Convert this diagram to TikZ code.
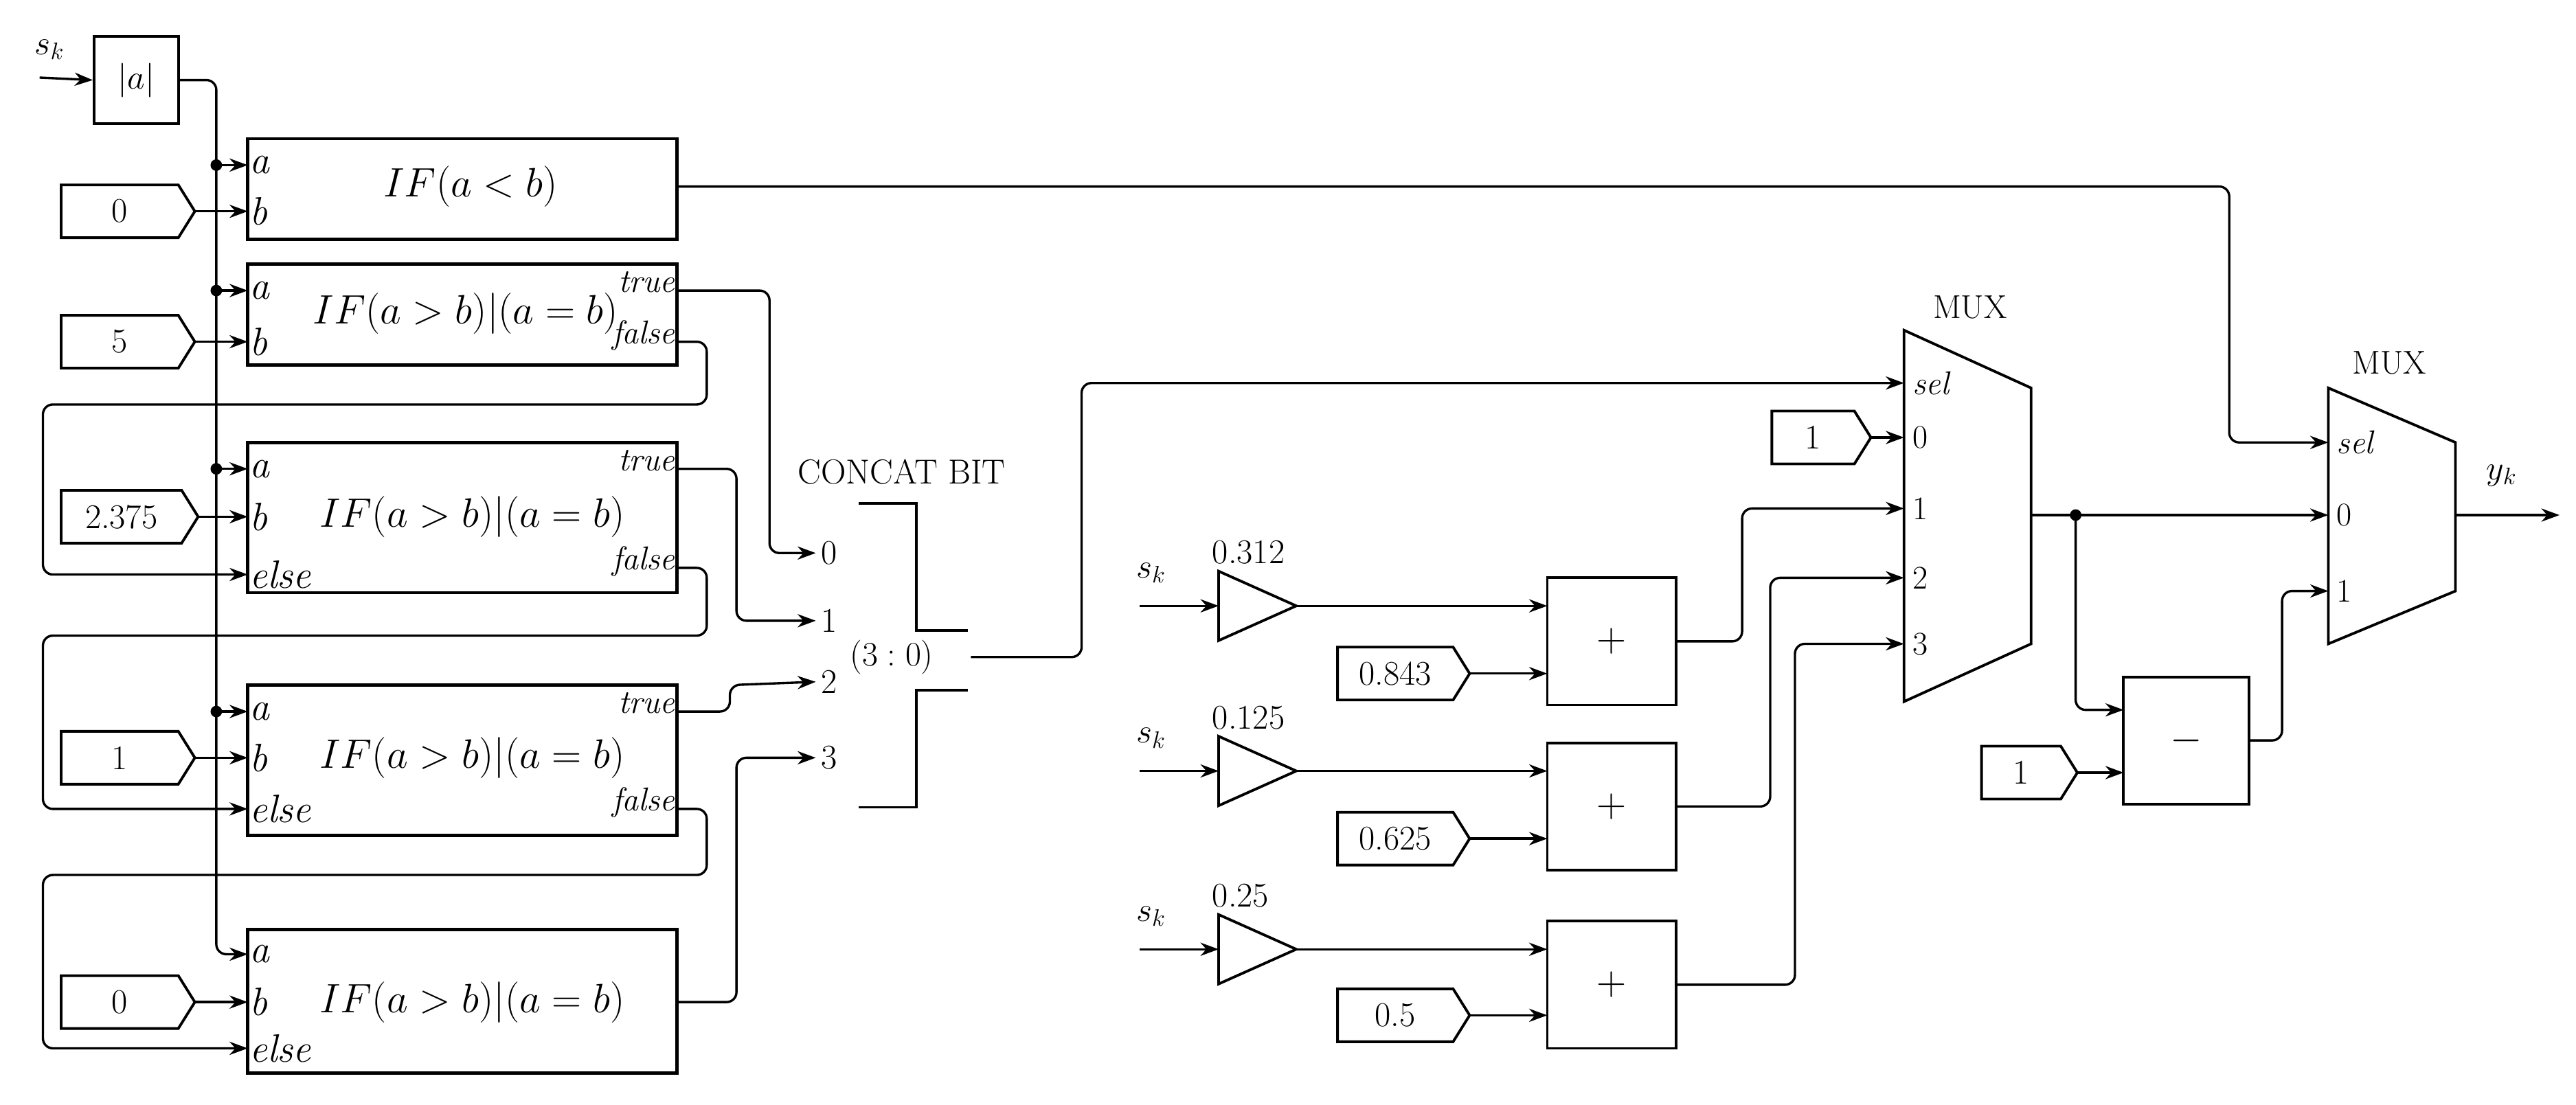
\documentclass[tikz,border=0pt]{standalone}
\usetikzlibrary{arrows.meta}
\newcommand\konst[5]{%
 \draw[line width=1.6pt] (#2,#4-16)--(#3-10,#4-16)--(#3,#4)--(#3-10,#4+16)--(#2,#4+16)--cycle;
 \node[num] at ({(#2+#3-10)/2},#4) {#5};
 \coordinate (#1) at (#3,#4);}
\newcommand\gainblk[4]{% name, y, label, input name
 \draw[line width=1.6pt] (738,#2-21)--(785,#2)--(738,#2+21)--cycle;
 \coordinate (#1) at (785,#2);
 \coordinate (#1in) at (738,#2);
 \node[num,anchor=south west] at (733,#2-24) {#3};
 \node[num] at (697,#2-20) {$s_k$};
 \coordinate (#4) at (690,#2);
 \draw[wire,->] (#4) -- (#1in);}
\begin{document}
\begin{tikzpicture}[x=1pt,y=-1pt,
 >={Stealth[length=11pt,width=8pt]},
 wire/.style={line width=1.4pt, rounded corners=6pt},
 blk/.style={draw, line width=2pt, inner sep=0pt},
 port/.style={font=\fontsize{24}{26}\selectfont, inner sep=1pt},
 small/.style={font=\fontsize{20}{22}\selectfont, inner sep=1pt},
 num/.style={font=\fontsize{21}{23}\selectfont, inner sep=1pt},
 big/.style={font=\fontsize{27}{30}\selectfont, inner sep=0pt},
 dot/.style={circle, fill, inner sep=0pt, minimum size=7pt}]
\useasboundingbox (0,0) rectangle (1560,669);

% |a|
\node[blk, line width=1.6pt, minimum width=51pt, minimum height=53pt, num] (abs) at (82.5,48.5) {$|a|$};
\node[num] at (30,30) {$s_k$};
\coordinate (skin) at (24,47);
\draw[wire,->] (skin) -- (abs.west);

% blocks
\node[blk, minimum width=260pt, minimum height=61pt] (B1) at (280,114.5) {};
\node[blk, minimum width=260pt, minimum height=61pt] (B2) at (280,190.5) {};
\node[blk, minimum width=260pt, minimum height=91pt] (B3) at (280,313.5) {};
\node[blk, minimum width=260pt, minimum height=91pt] (B4) at (280,460.5) {};
\node[blk, minimum width=260pt, minimum height=87pt] (B5) at (280,606.5) {};

\node[big] at (285,113) {$IF(a<b)$};
\node[big] at (282,190) {$IF(a>b)|(a=b)$};
\node[big] at (286,313) {$IF(a>b)|(a=b)$};
\node[big] at (286,459) {$IF(a>b)|(a=b)$};
\node[big] at (286,607) {$IF(a>b)|(a=b)$};

% port coordinates
\foreach \b/\ya/\yb in {1/100/128, 2/176/207, 3/284/313, 4/431/459, 5/578/607}{
  \coordinate (B\b a) at (150,\ya);
  \coordinate (B\b b) at (150,\yb);
  \node[port,anchor=west] at (150,\ya) {\textit{a}};
  \node[port,anchor=west] at (150,\yb) {\textit{b}};
}
\foreach \b/\y in {3/348, 4/490, 5/635}{
  \coordinate (B\b e) at (150,\y);
  \node[port,anchor=west] at (150,\y) {\textit{else}};
}
\foreach \b/\yt/\yf in {2/176/207, 3/284/344, 4/431/490}{
  \coordinate (B\b t) at (410,\yt);
  \coordinate (B\b f) at (410,\yf);
  \node[small,anchor=east] at (410,\yt-5) {\textit{true}};
  \node[small,anchor=east] at (410,\yf-4) {\textit{false}};
}
\coordinate (B1o) at (410,113);
\coordinate (B5o) at (410,607);

% constants
\konst{k1}{37}{118}{128}{0}
\konst{k2}{37}{118}{207}{5}
\konst{k3}{37}{120}{313}{2.375}
\konst{k4}{37}{118}{459}{1}
\konst{k5}{37}{118}{607}{0}
\foreach \i in {1,...,5}{ \draw[wire,->] (k\i) -- (B\i b); }

% bus
\draw[wire,->] (abs.east) -| (131,560) |- (B5a);
\foreach \i/\y in {1/100,2/176,3/284,4/431}{
  \node[dot] (d\i) at (131,\y) {};
  \draw[wire,->] (d\i.center) -- (B\i a);
}

% else chains
\draw[wire,->] (B2f) -| (428,245) -| (26,348) -- (B3e);
\draw[wire,->] (B3f) -| (428,385) -| (26,490) -- (B4e);
\draw[wire,->] (B4f) -| (428,530) -| (26,635) -- (B5e);

% concat
\node[small, font=\fontsize{21}{23}\selectfont] at (546,286) {CONCAT BIT};
\foreach \i/\y in {0/335,1/376,2/413,3/459}{
  \coordinate (c\i) at (494,\y);
  \node[num,anchor=west] at (496,\y) {\i};
}
\draw[line width=1.6pt] (520,305) -- (555,305) -- (555,382) -- (586,382);
\draw[line width=1.6pt] (520,489) -- (555,489) -- (555,418) -- (586,418);
\node[num] at (540,398) {$(3:0)$};
\coordinate (cout) at (588,398);

\draw[wire,->] (B2t) -| (466,335) -- (c0);
\draw[wire,->] (B3t) -| (446,376) -- (c1);
\draw[wire,->] (B4t) -| (442,415) -- (c2);
\draw[wire,->] (B5o) -| (446,459) -- (c3);

% MUX1
\draw[line width=1.6pt] (1153,200)--(1230,235)--(1230,390)--(1153,425)--cycle;
\node[small] at (1193,186) {MUX};
\foreach \n/\y/\t in {sel/232/\textit{sel},0/265/0,1/308/1,2/350/2,3/390/3}{
  \coordinate (m1\n) at (1153,\y);
  \node[small,anchor=west] at (1157,\y) {\t};
}
\coordinate (m1out) at (1230,312);
\draw[wire,->] (cout) -| (655,232) -- (m1sel);
\konst{q1}{1073}{1133}{265}{1}
\draw[wire,->] (q1) -- (m10);

% gains & adders
\gainblk{g1}{367}{0.312}{s1}
\gainblk{g2}{467}{0.125}{s2}
\gainblk{g3}{575}{0.25}{s3}
\node[blk, line width=1.6pt, minimum width=78pt, minimum height=77pt, big] (A1) at (976,388.5) {$+$};
\node[blk, line width=1.6pt, minimum width=78pt, minimum height=77pt, big] (A2) at (976,488.5) {$+$};
\node[blk, line width=1.6pt, minimum width=78pt, minimum height=77pt, big] (A3) at (976,596.5) {$+$};
\coordinate (A1a) at (937,367); \coordinate (A1b) at (937,408);
\coordinate (A2a) at (937,467); \coordinate (A2b) at (937,508);
\coordinate (A3a) at (937,575); \coordinate (A3b) at (937,615);
\draw[wire,->] (g1) -- (A1a);
\draw[wire,->] (g2) -- (A2a);
\draw[wire,->] (g3) -- (A3a);
\konst{p1}{810}{890}{408}{0.843}
\konst{p2}{810}{890}{508}{0.625}
\konst{p3}{810}{890}{615}{0.5}
\draw[wire,->] (p1) -- (A1b);
\draw[wire,->] (p2) -- (A2b);
\draw[wire,->] (p3) -- (A3b);
\draw[wire,->] (A1.east) -| (1055,308) -- (m11);
\draw[wire,->] (A2.east) -| (1072,350) -- (m12);
\draw[wire,->] (A3.east) -| (1087,390) -- (m13);

% MUX2
\draw[line width=1.6pt] (1410,235)--(1487,268)--(1487,358)--(1410,390)--cycle;
\node[small] at (1447,220) {MUX};
\foreach \n/\y/\t in {sel/268/\textit{sel},0/312/0,1/358/1}{
  \coordinate (m2\n) at (1410,\y);
  \node[small,anchor=west] at (1414,\y) {\t};
}
\coordinate (m2out) at (1487,312);
\coordinate (yk) at (1550,312);
\node[num] at (1515,288) {$y_k$};
\draw[wire,->] (m2out) -- (yk);
\draw[wire,->] (B1o) -| (1350,268) -- (m2sel);

% subtract
\node[blk, line width=1.6pt, minimum width=76pt, minimum height=77pt, big] (S) at (1324,448.5) {$-$};
\coordinate (Sa) at (1286,430); \coordinate (Sb) at (1286,468);
\konst{q2}{1200}{1258}{468}{1}
\draw[wire,->] (q2) -- (Sb);
\node[dot] (d5) at (1257,312) {};
\draw[wire,->] (m1out) -- (m20);
\draw[wire,->] (d5.center) |- (Sa);
\draw[wire,->] (S.east) -| (1382,358) -- (m21);
\end{tikzpicture}
\end{document}
